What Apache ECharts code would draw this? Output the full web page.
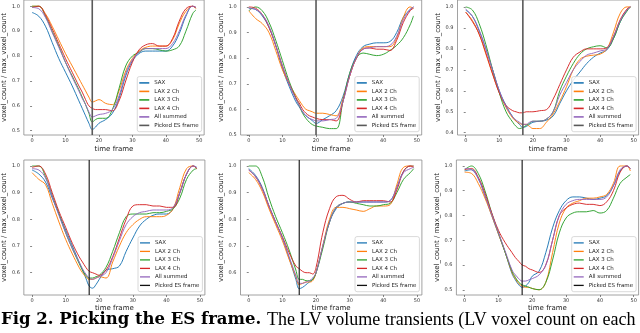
<!DOCTYPE html>
<html><head><meta charset="utf-8">
<script src="https://cdn.jsdelivr.net/npm/echarts@6/dist/echarts.min.js"></script>
<style>html,body{margin:0;padding:0;background:#fff}#c{width:640px;height:333px}</style>
</head><body><div id="c"></div>
<script>
// ---------------- data ----------------
const frames = [0,2,4,6,8,10,12,14,15,16,17,18,19,20,22,24,26,28,30,32,34,36,38,40,42,44,46,48,49];
const seriesNames = ['SAX','LAX 2 Ch','LAX 3 Ch','LAX 4 Ch','All summed'];
const esName = 'Picked ES frame';
const xTicks = [0,10,20,30,40,50];
const esFrames = [18,20,17,17,15,17];

const p1Sax  = [0.975,0.96,0.92,0.855,0.79,0.735,0.68,0.62,0.59,0.56,0.53,0.505,0.515,0.53,0.545,0.57,0.63,0.72,0.78,0.81,0.82,0.82,0.82,0.82,0.84,0.89,0.96,1.0,0.995];
const p1Lax2 = [1.0,1.0,0.97,0.92,0.865,0.81,0.76,0.71,0.685,0.66,0.635,0.615,0.62,0.625,0.61,0.605,0.66,0.74,0.79,0.82,0.835,0.84,0.84,0.84,0.865,0.93,0.98,1.0,0.99];
const p1Lax3 = [1.0,1.0,0.96,0.9,0.84,0.775,0.72,0.665,0.635,0.605,0.57,0.535,0.545,0.55,0.55,0.585,0.67,0.76,0.8,0.815,0.83,0.83,0.825,0.82,0.825,0.84,0.9,0.97,0.985];
const p1Lax4 = [0.995,1.0,0.965,0.91,0.85,0.79,0.735,0.68,0.655,0.625,0.6,0.59,0.585,0.585,0.585,0.58,0.62,0.7,0.775,0.825,0.845,0.85,0.84,0.84,0.87,0.94,0.99,1.0,0.995];
const p1All  = [0.995,0.99,0.955,0.895,0.835,0.775,0.715,0.66,0.63,0.605,0.575,0.555,0.56,0.565,0.57,0.585,0.64,0.73,0.785,0.815,0.83,0.83,0.83,0.83,0.85,0.9,0.965,1.0,0.995];

const p2Sax  = [0.995,0.99,0.965,0.92,0.85,0.76,0.69,0.63,0.61,0.59,0.575,0.565,0.555,0.545,0.56,0.575,0.595,0.65,0.74,0.81,0.845,0.855,0.86,0.86,0.865,0.9,0.96,0.99,1.0];
const p2Lax2 = [0.985,0.955,0.935,0.9,0.83,0.755,0.7,0.655,0.635,0.615,0.6,0.595,0.59,0.585,0.585,0.58,0.575,0.64,0.73,0.8,0.84,0.845,0.845,0.845,0.845,0.88,0.96,1.0,0.995];
const p2Lax3 = [0.985,1.0,0.985,0.94,0.87,0.79,0.71,0.645,0.615,0.585,0.565,0.55,0.54,0.535,0.53,0.525,0.525,0.63,0.74,0.8,0.82,0.815,0.81,0.815,0.83,0.85,0.88,0.93,0.965];
const p2Lax4 = [1.0,0.995,0.97,0.92,0.85,0.77,0.7,0.645,0.625,0.6,0.585,0.575,0.57,0.565,0.56,0.56,0.555,0.63,0.73,0.8,0.835,0.84,0.835,0.835,0.83,0.87,0.94,0.985,0.995];
const p2All  = [0.995,0.99,0.97,0.925,0.85,0.77,0.7,0.64,0.615,0.59,0.575,0.565,0.56,0.555,0.555,0.56,0.565,0.63,0.73,0.8,0.835,0.84,0.845,0.845,0.85,0.885,0.95,0.99,1.0];

const p3Sax  = [0.985,0.955,0.885,0.8,0.7,0.6,0.53,0.475,0.455,0.44,0.425,0.43,0.44,0.45,0.455,0.46,0.48,0.54,0.6,0.65,0.69,0.73,0.76,0.78,0.795,0.85,0.93,0.985,1.0];
const p3Lax2 = [0.975,0.935,0.87,0.775,0.68,0.59,0.52,0.47,0.455,0.445,0.44,0.44,0.43,0.42,0.42,0.45,0.49,0.55,0.62,0.7,0.75,0.765,0.77,0.775,0.8,0.88,0.97,1.0,1.0];
const p3Lax3 = [1.0,0.985,0.92,0.82,0.7,0.59,0.5,0.45,0.43,0.42,0.425,0.435,0.445,0.455,0.455,0.465,0.5,0.6,0.67,0.73,0.775,0.8,0.81,0.815,0.805,0.85,0.93,0.98,1.0];
const p3Lax4 = [0.975,0.93,0.87,0.78,0.68,0.59,0.53,0.505,0.5,0.495,0.495,0.5,0.5,0.5,0.505,0.51,0.56,0.63,0.7,0.76,0.785,0.8,0.8,0.8,0.805,0.86,0.94,0.99,1.0];
const p3All  = [0.99,0.955,0.89,0.8,0.7,0.6,0.525,0.475,0.46,0.45,0.44,0.44,0.45,0.455,0.455,0.465,0.5,0.58,0.64,0.7,0.74,0.77,0.78,0.79,0.8,0.86,0.935,0.985,1.0];

const p4Sax  = [0.985,0.97,0.94,0.88,0.82,0.76,0.7,0.64,0.61,0.58,0.55,0.542,0.555,0.575,0.61,0.615,0.625,0.68,0.73,0.775,0.8,0.815,0.82,0.82,0.84,0.9,0.97,1.0,0.995];
const p4Lax2 = [0.975,0.95,0.93,0.86,0.79,0.725,0.67,0.62,0.6,0.585,0.575,0.575,0.58,0.585,0.58,0.64,0.7,0.75,0.78,0.8,0.81,0.81,0.81,0.815,0.84,0.92,0.99,1.0,0.99];
const p4Lax3 = [1.0,1.0,0.96,0.89,0.82,0.75,0.69,0.635,0.61,0.59,0.58,0.58,0.585,0.59,0.62,0.68,0.75,0.81,0.82,0.82,0.82,0.825,0.825,0.83,0.84,0.88,0.95,0.985,0.99];
const p4Lax4 = [0.995,1.0,0.97,0.9,0.83,0.77,0.71,0.66,0.64,0.62,0.605,0.6,0.595,0.59,0.61,0.66,0.73,0.8,0.85,0.855,0.855,0.85,0.85,0.845,0.845,0.9,0.97,1.0,0.99];
const p4All  = [0.99,0.985,0.955,0.885,0.815,0.75,0.69,0.64,0.615,0.595,0.58,0.575,0.58,0.585,0.6,0.655,0.72,0.78,0.81,0.825,0.83,0.835,0.835,0.835,0.845,0.9,0.97,1.0,0.995];

const p5Sax  = [0.99,0.965,0.92,0.85,0.79,0.73,0.655,0.575,0.54,0.545,0.555,0.565,0.575,0.6,0.7,0.79,0.84,0.86,0.865,0.865,0.865,0.865,0.865,0.865,0.87,0.92,0.98,1.0,1.0];
const p5Lax2 = [0.975,0.95,0.905,0.84,0.78,0.72,0.65,0.585,0.555,0.56,0.565,0.565,0.57,0.6,0.7,0.8,0.845,0.845,0.84,0.835,0.83,0.84,0.85,0.85,0.855,0.93,0.995,1.0,1.0];
const p5Lax3 = [1.0,1.0,0.96,0.88,0.81,0.75,0.685,0.61,0.575,0.575,0.57,0.57,0.575,0.6,0.69,0.79,0.845,0.86,0.865,0.86,0.855,0.85,0.85,0.855,0.86,0.9,0.95,0.975,0.99];
const p5Lax4 = [0.985,0.96,0.915,0.85,0.79,0.735,0.675,0.625,0.615,0.605,0.6,0.6,0.595,0.62,0.75,0.84,0.885,0.89,0.875,0.865,0.87,0.87,0.87,0.87,0.865,0.91,0.98,1.0,0.995];
const p5All  = [0.985,0.96,0.915,0.85,0.79,0.73,0.66,0.59,0.56,0.56,0.565,0.57,0.58,0.6,0.7,0.79,0.845,0.86,0.865,0.865,0.865,0.865,0.865,0.865,0.87,0.92,0.975,0.99,0.995];

const p6Sax  = [0.98,0.985,0.95,0.88,0.8,0.725,0.65,0.565,0.54,0.52,0.51,0.515,0.53,0.555,0.575,0.65,0.75,0.82,0.86,0.875,0.875,0.87,0.865,0.87,0.88,0.92,0.98,1.0,0.99];
const p6Lax2 = [0.975,0.97,0.93,0.87,0.8,0.725,0.65,0.57,0.545,0.525,0.515,0.51,0.51,0.505,0.5,0.53,0.65,0.77,0.83,0.85,0.86,0.87,0.87,0.875,0.885,0.93,1.0,1.0,0.98];
const p6Lax3 = [0.985,1.0,0.97,0.9,0.81,0.73,0.65,0.575,0.55,0.53,0.52,0.515,0.51,0.505,0.5,0.53,0.62,0.73,0.79,0.81,0.815,0.815,0.82,0.81,0.82,0.87,0.93,0.955,0.965];
const p6Lax4 = [0.985,0.99,0.955,0.89,0.81,0.74,0.69,0.65,0.63,0.615,0.6,0.595,0.585,0.58,0.57,0.6,0.7,0.8,0.83,0.845,0.85,0.845,0.845,0.84,0.855,0.9,0.975,1.0,0.99];
const p6All  = [0.99,0.985,0.95,0.88,0.805,0.73,0.655,0.58,0.56,0.545,0.535,0.535,0.54,0.545,0.56,0.6,0.7,0.8,0.845,0.86,0.865,0.865,0.865,0.865,0.875,0.92,0.985,1.0,0.99];

const yTicksA = [0.5,0.6,0.7,0.8,0.9,1.0];
const yTicksB = [0.4,0.5,0.6,0.7,0.8,0.9,1.0];
const yTicksC = [0.6,0.7,0.8,0.9,1.0];

const captionBold = 'Fig 2. Picking the ES frame.';
const captionRest = 'The LV volume transients (LV voxel count on each';

// ---------------- layout ----------------
const panels = [
  {vals:[p1Sax,p1Lax2,p1Lax3,p1Lax4,p1All], yt:yTicksA, left:22.75, top:-1,    width:181.4, height:136, yMin:0.4829, yMax:1.0251, row:0},
  {vals:[p2Sax,p2Lax2,p2Lax3,p2Lax4,p2All], yt:yTicksA, left:240.6, top:-1,    width:181.1, height:136, yMin:0.5,    yMax:1.0271, row:0},
  {vals:[p3Sax,p3Lax2,p3Lax3,p3Lax4,p3All], yt:yTicksB, left:457.5, top:-1,    width:181.1, height:136, yMin:0.3892, yMax:1.0331, row:0},
  {vals:[p4Sax,p4Lax2,p4Lax3,p4Lax4,p4All], yt:yTicksC, left:22.7,  top:160,   width:182.2, height:135, yMin:0.5164, yMax:1.0225, row:1},
  {vals:[p5Sax,p5Lax2,p5Lax3,p5Lax4,p5All], yt:yTicksC, left:240.5, top:160,   width:181.4, height:135, yMin:0.5164, yMax:1.0225, row:1},
  {vals:[p6Sax,p6Lax2,p6Lax3,p6Lax4,p6All], yt:yTicksA, left:456.4, top:160,   width:182.2, height:135, yMin:0.4788, yMax:1.0242, row:1}
];
const colors = ['#1f77b4','#ff7f0e','#2ca02c','#d62728','#9467bd'];
const FONT = 'DejaVu Sans';

const grid = [], xAxis = [], yAxis = [], series = [], legend = [];
panels.forEach((p, i) => {
  const esColor = p.row === 0 ? '#5a5a5a' : '#111';
  const esWidth = p.row === 0 ? 1.6 : 1.1;
  grid.push({show:true, left:p.left, top:p.top, width:p.width, height:p.height,
    borderColor:'#8a8a8a', borderWidth:0.8, backgroundColor:'transparent'});
  xAxis.push({type:'value', gridIndex:i, min:-2.45, max:51.45,
    axisLine:{show:false}, splitLine:{show:false},
    axisTick:{show:true, customValues:xTicks, length:2, lineStyle:{color:'#555', width:0.7}},
    axisLabel:{customValues:xTicks, fontSize:5, color:'#333', margin:3.5, fontFamily:FONT},
    name:'time frame', nameLocation:'middle', nameGap: p.row === 0 ? 10.5 : 8.5,
    nameTextStyle:{fontSize:7, color:'#222', fontFamily:FONT}});
  yAxis.push({type:'value', gridIndex:i, min:p.yMin, max:p.yMax,
    axisLine:{show:false}, splitLine:{show:false},
    axisTick:{show:true, customValues:p.yt, length:2, lineStyle:{color:'#555', width:0.7}},
    axisLabel:{customValues:p.yt, fontSize:5, color:'#333', margin:4, fontFamily:FONT,
      formatter: v => Number(v).toFixed(1)},
    name:'voxel_count / max_voxel_count', nameLocation:'middle', nameGap:14,
    nameTextStyle:{fontSize:7, color:'#222', fontFamily:FONT}});
  p.vals.forEach((vals, k) => {
    series.push({type:'line', name:seriesNames[k], xAxisIndex:i, yAxisIndex:i,
      data: frames.map((f, j) => [f, vals[j]]), symbol:'none', smooth:0.4,
      lineStyle:{width:1, color:colors[k], opacity:0.95}, itemStyle:{color:colors[k]},
      animation:false, silent:true, z:2+k});
  });
  series.push({type:'line', name:esName, xAxisIndex:i, yAxisIndex:i,
    data:[[esFrames[i], p.yMin],[esFrames[i], p.yMax]], symbol:'none',
    lineStyle:{width:esWidth, color:esColor}, itemStyle:{color:esColor},
    animation:false, silent:true, z:10});
  legend.push({orient:'vertical',
    right: 640 - (p.left + p.width) + 2.5,
    bottom: 333 - (p.top + p.height) + 3.3,
    data: seriesNames.map((n, k) => ({name:n, icon:'rect', itemStyle:{color:colors[k]}}))
      .concat([{name:esName, icon:'rect', itemStyle:{color:esColor}}]),
    itemWidth:10, itemHeight: p.row === 0 ? 1.6 : 1.3, itemGap:2.5, selectedMode:false,
    textStyle:{fontSize:5.5, fontFamily:FONT, color:'#222', lineHeight:5.8},
    padding:[3.3,3,3.3,2], borderColor:'#cfcfcf', borderWidth:0.8, borderRadius:2,
    backgroundColor:'rgba(255,255,255,0.85)'});
});

const chart = echarts.init(document.getElementById('c'), null, {renderer:'canvas'});
chart.setOption({
  animation:false,
  backgroundColor:'#fff',
  grid, xAxis, yAxis, series, legend,
  graphic:[
    {type:'text', x:1, y:320, style:{text:captionBold, font:'bold 16.5px "DejaVu Serif"', fill:'#000', align:'left', verticalAlign:'middle'}},
    {type:'text', x:267, y:320, style:{text:captionRest, font:'18px "Liberation Serif"', fill:'#000', align:'left', verticalAlign:'middle'}}
  ]
});
</script></body></html>
